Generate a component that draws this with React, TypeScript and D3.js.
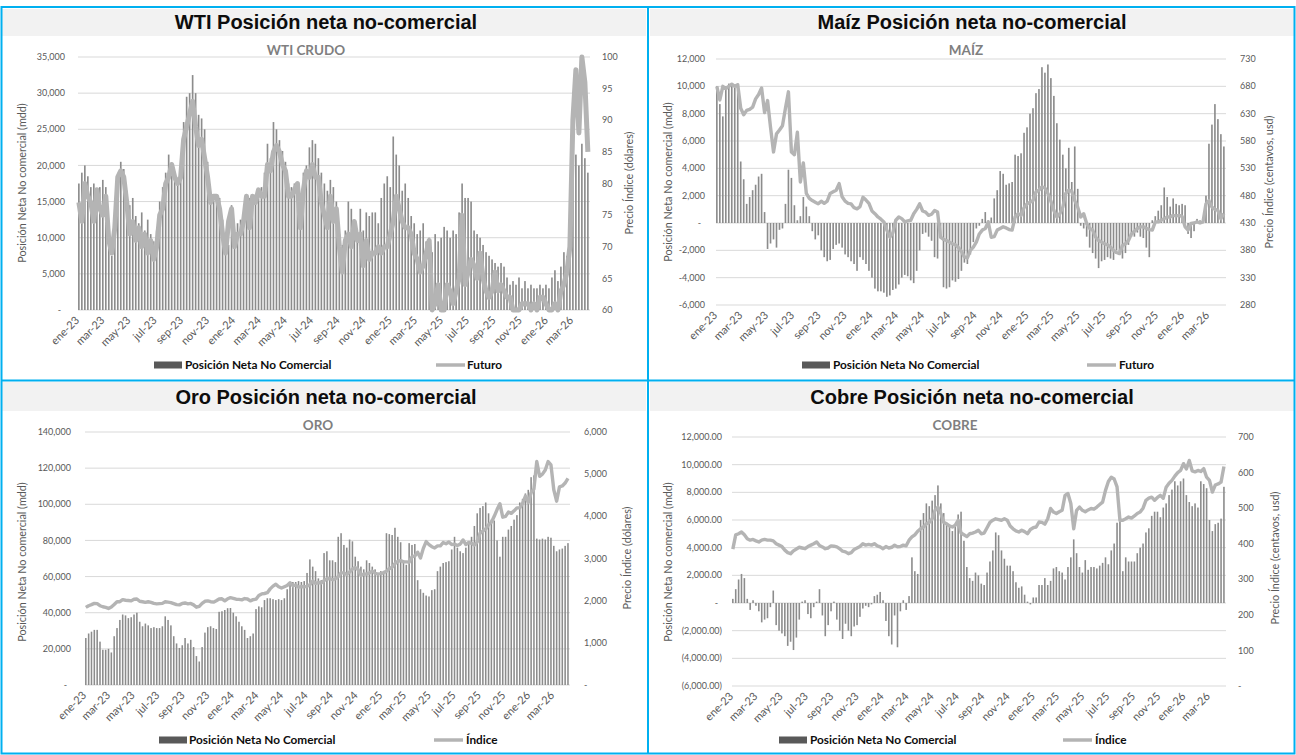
import React from 'react';
import * as d3 from 'd3';

// semanas del COT (martes), ene-2023 a abr-2026
const START = new Date(2023, 0, 3);
const N_WEEKS = 171;
const DOMAIN_X: [Date, Date] = [new Date(2023, 0, 1), new Date(2026, 3, 12)];
const MESES = ['ene', 'feb', 'mar', 'abr', 'may', 'jun', 'jul', 'ago', 'sep', 'oct', 'nov', 'dic'];

// WTI
const wtiPosicion = [
  17500, 19000, 20000, 18500, 17000, 17500, 15500, 17000, 18000, 17000, 11000, 7500, 10500, 18000, 20500, 19500, 16500,
  14500, 15500, 13000, 12000, 13500, 11000, 12500, 10500, 9500, 11000, 15000, 17000, 19000, 21500, 20000, 18500, 18000,
  19000, 26000, 29500, 30000, 32500, 30000, 27000, 26500, 25000, 20500, 16000, 15500, 16000, 15500, 12500, 8500, 9000, 14500,
  10500, 12000, 12500, 12000, 13500, 15500, 15000, 16000, 16500, 17000, 19000, 23000, 21000, 26000, 25000, 23500, 22000,
  20500, 17500, 17000, 17500, 17000, 15500, 19000, 20000, 22500, 23500, 23000, 21000, 19000, 17500, 16500, 18000, 17000,
  15000, 10500, 9000, 11000, 15000, 14000, 12500, 10500, 14000, 11000, 13500, 13000, 13500, 13500, 12000, 15500, 17500, 18500, 17000,
  24000, 21500, 20000, 16500, 17500, 15500, 13000, 12000, 10500, 11000, 12000, 9500, 10000, 8000, 10500, 9500, 10000,
  11500, 11000, 10000, 11000, 10500, 13500, 17500, 15500, 15500, 15000, 11000, 10500, 10000, 9000, 8000, 7500, 7000,
  6500, 6000, 6500, 6000, 4500, 3500, 4000, 3500, 4500, 3000, 4000, 3000, 3500, 3000, 3000, 3500, 3000, 3500,
  3000, 4500, 5500, 4000, 6000, 8000, 7500, 9500, 20000, 21500, 20000, 23000, 21000, 19000,
];
const wtiFuturo = [
  77, 74, 80, 78, 77, 74, 79, 76, 75, 78, 71, 69, 73, 81, 82, 81, 77, 72, 74, 71, 73, 70, 72, 69, 71, 68,
  70, 75, 76, 80, 81, 83, 81, 80, 81, 87, 89, 91, 93, 89, 86, 87, 84, 81, 77, 78, 78, 76, 72, 69, 74, 76,
  70, 72, 72, 74, 78, 73, 78, 77, 79, 78, 78, 83, 82, 85, 86, 85, 83, 82, 78, 78, 79, 80, 73, 79, 82, 81,
  83, 81, 81, 77, 75, 73, 78, 74, 76, 70, 66, 71, 72, 70, 74, 71, 72, 67, 71, 68, 69, 69, 70, 69, 70, 70, 72,
  74, 78, 76, 74, 73, 73, 72, 69, 68, 66, 67, 69, 71, 60, 61, 64, 60, 60, 64, 63, 61, 63, 65, 75, 64,
  66, 68, 67, 65, 69, 65, 63, 62, 63, 66, 63, 64, 63, 62, 62, 60, 60, 60, 61, 61, 61, 60, 61, 60, 62, 62, 61,
  60, 60, 61, 60, 63, 64, 66, 70, 90, 98, 88, 100, 96, 85,
];

// Maíz
const maizPosicion = [
  10000, 8700, 7800, 10000, 10200, 10100, 9900, 10200, 4500, 3200, 1400, 1900, 2400, 2800, 3400, 3600, 800,
  -1900, -1500, -1200, -1800, -500, -400, 1400, 3900, 3300, 1300, 200, 500, 1900, 1200, 500, -600, -1200, -900,
  -2000, -2500, -2800, -2700, -1900, -1600, -1500, -1800, -2300, -2500, -2800, -3000, -3500, -2500, -2700, -3000, -3500,
  -4000, -4800, -5000, -5000, -5100, -5400, -5300, -4900, -4800, -4500, -4000, -3800, -3900, -4200, -4400, -3500, -2000,
  -800, -700, -1000, -1300, -2500, -2600, -1000, -4700, -4800, -4700, -4200, -4300, -4100, -3500, -2900, -3000, -2300,
  -1400, -400, -200, 300, 800, 200, 400, 1800, 2400, 3800, 3600, 2800, 2900, 3000, 5000, 4900, 5100, 6600, 7000,
  8000, 8400, 9500, 9800, 11400, 11000, 11600, 10600, 9300, 7300, 6100, 5000, 4000, 5500, 3000, 5600, 2500,
  -200, -400, -1000, -1800, -2200, -2600, -3300, -2800, -2700, -2500, -2600, -2700, -2000, -2300, -2600, -2200, -1600,
  -1000, -1000, -700, -1000, -1100, -1800, -2500, 200, 500, 900, 1300, 2600, 1900, 1200, 1800, 1400, 1300, 1400,
  1300, -800, -1100, -600, 300, 200, 400, 2000, 5800, 7200, 8700, 7600, 6500, 5600,
];
const maizFuturo = [
  680, 655, 680, 676, 680, 684, 680, 683, 640, 628, 636, 638, 642, 657, 665, 677, 632, 654, 605, 560, 593, 600,
  608, 640, 670, 560, 555, 596, 505, 540, 484, 475, 471, 468, 465, 470, 466, 470, 484, 487, 490, 502, 478, 470,
  466, 465, 458, 456, 460, 477, 472, 466,
  452, 447, 441, 437, 432, 417, 404, 412, 435, 441, 438, 432, 434, 435, 447, 455, 465, 452, 450, 444, 446, 453,
  450, 404, 400, 398, 395, 392, 390, 385, 378, 368, 366, 380, 386, 395, 410, 417, 420, 432, 404, 405, 417, 420,
  423, 421, 418, 417, 441, 447, 444, 458, 465,
  468, 471, 487, 490, 496, 494, 484, 470, 453, 441, 447, 459, 484, 490, 488, 471, 459, 441, 447, 429, 420,
  417, 404, 398, 395, 392, 390, 386, 380, 376, 374, 389, 392, 398, 410, 415, 420, 423, 423, 420, 418, 417, 432,
  432, 435, 438, 441, 441, 444, 443, 444, 442,
  423, 417, 429, 430, 432, 430, 432, 465, 471, 459, 455, 453, 438, 447,
];

// Oro
const oroPosicion = [
  26000, 28500, 29500, 30500, 30500, 24000, 19500, 19500, 20000, 18000, 27000, 31500, 36000, 39000, 38500, 37000, 37500,
  39000, 40000, 35000, 32500, 34000, 33000, 31500, 32000, 31500, 31500, 32500, 38000, 36000, 33000, 27000, 23000, 20500,
  22000, 26000, 23000, 25000, 21000, 16000, 13000, 21000, 29000, 32000, 32500, 31500, 31000, 40500, 40800, 41500, 42500, 42600,
  40000, 38000, 35000, 32500, 30500, 26000, 27000, 28500, 42000, 43500, 43000, 47000, 48000, 48000, 47500, 47000, 47500,
  47000, 48000, 53000, 56500, 57000, 57000, 57500, 57000, 57500, 62000, 69500, 65500, 63000, 59000, 58000, 73000, 74000,
  69000, 69000, 68000, 82000, 84000, 77500, 76000, 80500, 79500, 71000, 68500, 65500, 64000, 69000, 67500, 65500, 64000, 62000, 63000,
  62000, 84000, 83500, 83000, 87000, 82000, 79000, 69000, 66500, 78500, 77500, 78000, 58000, 53000, 51000, 49500, 49000,
  52500, 53000, 63000, 65500, 67500, 68000, 68500, 75000, 82000, 76000, 74000, 73000, 76000, 79000, 82000, 88000, 95000,
  98000, 99000, 101000, 95000, 91500, 91000, 80000, 71000, 82000, 82000, 86000, 88000, 91500, 94000, 101000, 103000, 106000, 108000,
  115000, 116000, 81000, 80500, 81000, 80500, 82000, 81500, 77000, 74000, 75000, 75500, 77000, 78500,
];
const oroIndice = [
  1840, 1880, 1905, 1935, 1930, 1880, 1855, 1840, 1815, 1850, 1910, 1975, 1975, 2025, 2010, 2005, 1995,
  2035, 2040, 1985, 1975, 1960, 1975, 1960, 1935, 1925, 1930, 1935, 1975, 1965, 1955, 1930, 1905, 1900, 1935,
  1945, 1925, 1935, 1900, 1845, 1865, 1935, 1985, 1995, 1975, 1965, 2000, 2040, 2045, 1995, 2045, 2070,
  2055, 2035, 2030, 2020, 2050, 2040, 1995, 2025, 2035, 2125, 2160, 2170, 2190, 2280, 2345, 2390, 2330, 2300,
  2330, 2360, 2425, 2355, 2370, 2320, 2335, 2330, 2340, 2375, 2465, 2410, 2430, 2420, 2475, 2520, 2525,
  2495, 2520, 2570, 2660, 2660, 2620, 2680, 2750, 2785, 2740, 2600, 2635, 2630, 2660, 2700, 2650, 2630, 2640,
  2665, 2700, 2760, 2795, 2880, 2930, 2950, 2920, 2920, 2915, 3040, 3060, 3150, 3010, 3240, 3400, 3330,
  3280, 3250, 3300, 3300, 3380, 3350, 3390, 3330, 3340, 3310, 3340, 3440, 3330, 3380, 3360, 3320, 3390,
  3600, 3650, 3700, 3800, 3860, 4000, 4160, 4300, 3980, 4000, 4100, 4070, 4130, 4200, 4200, 4310, 4480, 4330,
  4560, 4650, 5300, 4950, 5000, 5100, 5300, 5220, 4630, 4360, 4700, 4720, 4790, 4900,
];

// Cobre
const cobrePosicion = [
  300, 1000, 1700, 2100, 1800, 300, -500, 200, -200, -600, -1400, -1200, -1100, -300, 900, -1600, -2000,
  -2200, -2400, -3100, -2800, -3400, -2500, -1200, 100, 200, -800, -1100, -300, 100, 1000, -900, -2400, -1600, -600,
  100, -1200, -2000, -2600, -1500, -2000, -2400, -1700, -1600, -1000, -400, -200, -300, -100, 500, 600, 800,
  200, -1300, -2400, -3000, -900, -3200, -600, 200, -500, 500, 3300, 2300, 2100, 6000, 6500, 7200, 7000, 7400,
  7800, 8500, 7200, 6500, 5800, 5500, 5200, 5600, 6400, 6600, 4500, 2600, 1800, 1600, 2200, 2000, 1400,
  1300, 2200, 3000, 3800, 5100, 4900, 3800, 3200, 2700, 2700, 2300, 1500, 1100, 1200, 600, 100, -100, 400,
  400, 1300, 1300, 1800, 1300, 1600, 2500, 2600, 2300, 2200, 1700, 2600, 3300, 4600, 3600, 2600, 2200,
  3100, 2400, 2600, 2600, 2500, 2700, 2900, 3300, 2800, 3800, 4300, 5800, 5900, 2300, 3300, 3000, 3000,
  3000, 3600, 4000, 4300, 5100, 5400, 6300, 6600, 6600, 6200, 6900, 7200, 7800, 8200, 8800, 8500, 8800, 9000,
  7800, 7300, 7000, 7200, 6900, 8800, 8600, 8300, 6000, 5200, 5700, 5800, 6100, 8400,
];
const cobreIndice = [
  385, 425, 428, 433, 425, 414, 410, 412, 408, 405, 410, 412, 410, 410, 408, 400, 396, 392, 382, 375, 372, 380,
  385, 390, 388, 386, 392, 396, 400, 405, 395, 391, 386, 388, 394, 393, 391, 386, 379, 377, 372, 375, 384, 388,
  392, 400, 396, 398, 396, 400, 394, 391,
  386, 392, 388, 390, 396, 391, 392, 396, 394, 410, 419, 425, 435, 442, 447, 456, 460, 470, 494, 503, 485, 460,
  456, 450, 447, 452, 466, 430, 425, 420, 428, 430, 433, 438, 428, 430, 445, 460, 466, 470, 468, 466, 470, 466,
  450, 442, 436, 433, 438, 434, 428, 440, 445,
  447, 461, 460, 455, 470, 499, 489, 485, 490, 494, 536, 541, 513, 442, 494, 503, 494, 490, 495, 499, 497,
  503, 510, 517, 550, 575, 587, 582, 560, 466, 466, 470, 475, 472, 478, 485, 489, 500, 522, 528, 531, 522, 530,
  536, 528, 559, 570, 578, 590, 600, 606, 625,
  610, 634, 605, 602, 606, 603, 611, 587, 578, 545, 565, 568, 573, 617,
];

const weeks = d3.range(N_WEEKS).map(i => d3.timeDay.offset(START, 7 * i));

const fmtComma = d3.format(',');
const fmtDec = d3.format(',.2f');
const dashZero = (f: (v: number) => string) => (v: number) => (v === 0 ? '-' : f(v));
const signed = (v: number) => (v < 0 ? '-' : '') + fmtComma(Math.abs(v));
const paren = (v: number) => (v < 0 ? `(${fmtDec(-v)})` : fmtDec(v));

const BORDER = '#00b0f0';
const AXIS_TXT = '#595959';
const BAR = '#8c8c8c';
const LINE = '#b4b4b4';
const LEG_BAR = '#595959';
const FONT = 'Lato, "Open Sans", sans-serif';

type Cfg = {
  ox: number; oy: number;
  title: string; titleX: number; titleY: number; bandY: number; bandH: number;
  sub: string; subX: number; subY: number;
  pl: number; pr: number; pt: number; pb: number;
  left: [number, number]; leftStep: number; leftFmt: (v: number) => string; leftLabelX: number;
  right: [number, number]; rightStep: number; rightFmt: (v: number) => string; rightLabelX: number;
  leftTitle: string; leftTitleX: number; leftTitleY: number;
  rightTitle: string; rightTitleX: number; rightTitleY: number;
  legY: number; legRectX: number; legTextX: number; legLineX: number; legLineTextX: number; legLine: string;
  pos: number[]; price: number[]; lineW: number;
};

function Panel({ c }: { c: Cfg }) {
  const x = d3.scaleTime().domain(DOMAIN_X).range([c.pl, c.pr]);
  const yL = d3.scaleLinear().domain(c.left).range([c.pb, c.pt]);
  const yR = d3.scaleLinear().domain(c.right).range([c.pb, c.pt]);
  const leftTicks = d3.range(c.left[0], c.left[1] + c.leftStep / 2, c.leftStep);
  const rightTicks = d3.range(c.right[0], c.right[1] + c.rightStep / 2, c.rightStep);
  const step = x(weeks[1]) - x(weeks[0]);
  const bw = step * 0.55;
  const y0 = yL(0);
  const line = d3.line<number>().x((_, i) => x(weeks[i])).y(v => yR(v));
  const months = d3.timeMonth.every(2)!.range(DOMAIN_X[0], DOMAIN_X[1]);

  return (
    <g transform={`translate(${c.ox},${c.oy})`}>
      <rect x={2} y={c.bandY} width={644} height={c.bandH} fill="#f2f2f2" />
      <text x={c.titleX} y={c.titleY} textAnchor="middle" fontFamily='"Liberation Sans", Arial, sans-serif'
        fontWeight="bold" fontSize={20} fill="#0d0d0d">{c.title}</text>
      <text x={c.subX} y={c.subY} textAnchor="middle" fontFamily={FONT} fontWeight="bold" fontSize={13.5}
        fill="#7f7f7f">{c.sub}</text>

      {leftTicks.map(t => (
        <g key={'g' + t}>
          <line x1={c.pl} x2={c.pr} y1={yL(t)} y2={yL(t)} stroke="#d9d9d9" strokeWidth={1} />
          <text x={c.leftLabelX - (t === 0 ? 4 : 0)} y={yL(t)} dy="0.35em" textAnchor="end" fontFamily={FONT}
            fontSize={9} fill={AXIS_TXT}>{c.leftFmt(t)}</text>
        </g>
      ))}
      {rightTicks.map(t => (
        <text key={'r' + t} x={c.rightLabelX} y={yR(t)} dy="0.35em" fontFamily={FONT} fontSize={9}
          fill={AXIS_TXT}>{c.rightFmt(t)}</text>
      ))}

      {c.pos.map((v, i) => (
        <rect key={'b' + i} x={x(weeks[i]) - bw / 2} width={bw} y={Math.min(yL(v), y0)}
          height={Math.abs(yL(v) - y0)} fill={BAR} />
      ))}
      <path d={line(c.price) || ''} fill="none" stroke={LINE} strokeWidth={c.lineW} strokeLinejoin="round" />

      {months.map(m => (
        <text key={'m' + m.getTime()} transform={`translate(${x(m) + 2},${c.pb + 11}) rotate(-45)`}
          textAnchor="end" fontFamily={FONT} fontSize={11} fill={AXIS_TXT}>
          {`${MESES[m.getMonth()]}-${String(m.getFullYear()).slice(2)}`}
        </text>
      ))}

      <text transform={`translate(${c.leftTitleX},${c.leftTitleY}) rotate(-90)`} textAnchor="middle"
        dominantBaseline="central" fontFamily={FONT} fontSize={10.8} fill={AXIS_TXT}>{c.leftTitle}</text>
      <text transform={`translate(${c.rightTitleX},${c.rightTitleY}) rotate(-90)`} textAnchor="middle"
        dominantBaseline="central" fontFamily={FONT} fontSize={10.8} fill={AXIS_TXT}>{c.rightTitle}</text>

      <rect x={c.legRectX} y={c.legY - 3.5} width={28} height={7} fill={LEG_BAR} />
      <text x={c.legTextX} y={c.legY + 4} fontFamily={FONT} fontWeight="bold" fontSize={11.8}
        fill="#0d0d0d">Posición Neta No Comercial</text>
      <line x1={c.legLineX} x2={c.legLineX + 29} y1={c.legY} y2={c.legY} stroke={LINE} strokeWidth={3.5} />
      <text x={c.legLineTextX} y={c.legY + 4} fontFamily={FONT} fontWeight="bold" fontSize={11.8}
        fill="#0d0d0d">{c.legLine}</text>
    </g>
  );
}

const LEFT_TITLE = 'Posición Neta No comercial (mdd)';

const panels: Cfg[] = [
  {
    ox: 0, oy: 0, title: 'WTI Posición neta no-comercial', titleX: 326, titleY: 29, bandY: 9, bandH: 27,
    sub: 'WTI CRUDO', subX: 306, subY: 54.5, pl: 78, pr: 590, pt: 57, pb: 310,
    left: [0, 35000], leftStep: 5000, leftFmt: dashZero(fmtComma), leftLabelX: 65,
    right: [60, 100], rightStep: 5, rightFmt: v => String(v), rightLabelX: 602,
    leftTitle: LEFT_TITLE, leftTitleX: 21, leftTitleY: 183,
    rightTitle: 'Precio Índice (dólares)', rightTitleX: 628, rightTitleY: 183,
    legY: 365, legRectX: 154, legTextX: 185, legLineX: 436, legLineTextX: 467, legLine: 'Futuro',
    pos: wtiPosicion, price: wtiFuturo, lineW: 5,
  },
  {
    ox: 648, oy: 0, title: 'Maíz Posición neta no-comercial', titleX: 324, titleY: 29, bandY: 9, bandH: 27,
    sub: 'MAÍZ', subX: 318, subY: 54.5, pl: 68, pr: 578, pt: 59, pb: 305,
    left: [-6000, 12000], leftStep: 2000, leftFmt: dashZero(signed), leftLabelX: 57,
    right: [280, 730], rightStep: 50, rightFmt: v => String(v), rightLabelX: 592,
    leftTitle: LEFT_TITLE, leftTitleX: 19, leftTitleY: 182,
    rightTitle: 'Precio Índice (centavos, usd)', rightTitleX: 620, rightTitleY: 182,
    legY: 365, legRectX: 154, legTextX: 185, legLineX: 439, legLineTextX: 471, legLine: 'Futuro',
    pos: maizPosicion, price: maizFuturo, lineW: 3.4,
  },
  {
    ox: 0, oy: 380, title: 'Oro Posición neta no-comercial', titleX: 326, titleY: 24, bandY: 2, bandH: 29,
    sub: 'ORO', subX: 318, subY: 49.5, pl: 85, pr: 570, pt: 52, pb: 305,
    left: [0, 140000], leftStep: 20000, leftFmt: dashZero(fmtComma), leftLabelX: 71,
    right: [0, 6000], rightStep: 1000, rightFmt: dashZero(fmtComma), rightLabelX: 584,
    leftTitle: LEFT_TITLE, leftTitleX: 21, leftTitleY: 182,
    rightTitle: 'Precio Índice (dólares)', rightTitleX: 626, rightTitleY: 178,
    legY: 360, legRectX: 159, legTextX: 189, legLineX: 434, legLineTextX: 466, legLine: 'Índice',
    pos: oroPosicion, price: oroIndice, lineW: 3.4,
  },
  {
    ox: 648, oy: 380, title: 'Cobre Posición neta no-comercial', titleX: 324, titleY: 24, bandY: 2, bandH: 29,
    sub: 'COBRE', subX: 307, subY: 49.5, pl: 84, pr: 578, pt: 57, pb: 306,
    left: [-6000, 12000], leftStep: 2000, leftFmt: dashZero(paren), leftLabelX: 74,
    right: [0, 700], rightStep: 100, rightFmt: dashZero(String), rightLabelX: 590,
    leftTitle: LEFT_TITLE, leftTitleX: 19, leftTitleY: 182,
    rightTitle: 'Precio Índice (centavos, usd)', rightTitleX: 626, rightTitleY: 178,
    legY: 360, legRectX: 131, legTextX: 162, legLineX: 415, legLineTextX: 447, legLine: 'Índice',
    pos: cobrePosicion, price: cobreIndice, lineW: 3.4,
  },
];

export default function App() {
  return (
    <div style={{ position: 'absolute', left: 0, top: 0 }}>
      <svg width={1296} height={755} style={{ display: 'block', background: '#fff' }}>
        {panels.map(c => <Panel key={c.title} c={c} />)}
        <rect x={1.5} y={7} width={1293} height={746.5} fill="none" stroke={BORDER} strokeWidth={2} />
        <line x1={648} x2={648} y1={7} y2={754} stroke={BORDER} strokeWidth={2} />
        <line x1={1} x2={1295} y1={380.5} y2={380.5} stroke={BORDER} strokeWidth={2} />
      </svg>
    </div>
  );
}
